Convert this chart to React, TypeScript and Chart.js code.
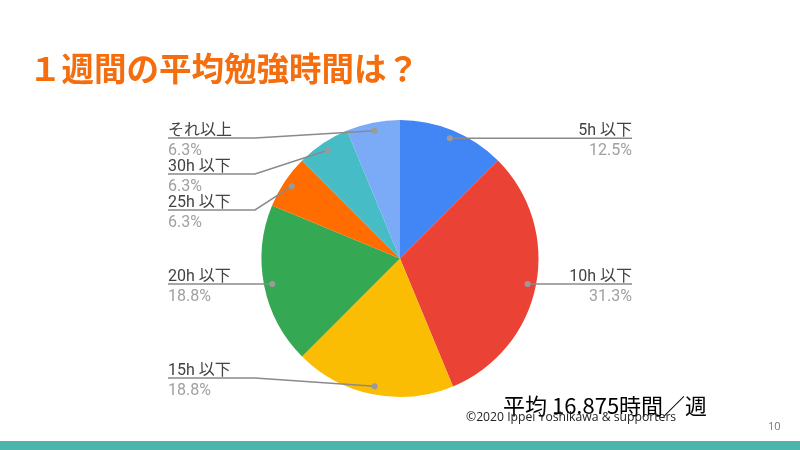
import React, { useEffect, useRef } from "react";
import { Chart, registerables } from "chart.js";
Chart.register(...registerables);

const categories = ["5h 以下", "10h 以下", "15h 以下", "20h 以下", "25h 以下", "30h 以下", "それ以上"];
const counts = [2, 5, 3, 3, 1, 1, 1];
const sliceColors = ["#4285F4", "#EA4335", "#FBBC04", "#34A853", "#FF6D01", "#46BDC6", "#7BAAF7"];
const titleText = "１週間の平均勉強時間は？";
const averageText = "平均 16.875時間／週";
const footerText = "©2020 Ippei Yoshikawa & supporters";
const pageNumber = "10";

const LATIN = "Roboto, 'Noto Sans CJK JP', sans-serif";

const slidePlugin = {
  id: "slideDecor",
  afterDraw(chart: any) {
    const ctx = chart.ctx as CanvasRenderingContext2D;
    const meta = chart.getDatasetMeta(0);
    const total = counts.reduce((a, b) => a + b, 0);
    type L = { i: number; dx: number; dy: number; y: number; right: boolean };
    const items: L[] = meta.data.map((arc: any, i: number) => {
      const p = arc.getProps(["x", "y", "startAngle", "endAngle", "outerRadius"], true);
      const mid = (p.startAngle + p.endAngle) / 2;
      const r = p.outerRadius * 0.94;
      const dx = p.x + Math.cos(mid) * r;
      const dy = p.y + Math.sin(mid) * r;
      return { i, dx, dy, y: dy, right: Math.cos(mid) >= 0 };
    });
    const gap = 36, minY = 138, maxY = 378;
    [true, false].forEach((side) => {
      const list = items.filter((it) => it.right === side).sort((a, b) => a.dy - b.dy);
      let prev = -Infinity;
      list.forEach((it) => {
        it.y = Math.max(it.dy, prev + gap, minY);
        prev = it.y;
      });
      let next = Infinity;
      for (let k = list.length - 1; k >= 0; k--) {
        list[k].y = Math.min(list[k].y, next - gap, maxY);
        next = list[k].y;
      }
    });

    ctx.save();
    items.forEach((it) => {
      const textX = it.right ? 632 : 168;
      const elbowX = it.right ? Math.max(545, it.dx) : Math.min(255, it.dx);
      ctx.strokeStyle = "#8a8a8a";
      ctx.lineWidth = 1.5;
      ctx.beginPath();
      ctx.moveTo(textX, it.y);
      ctx.lineTo(elbowX, it.y);
      ctx.lineTo(it.dx, it.dy);
      ctx.stroke();
      ctx.fillStyle = "#9a9a9a";
      ctx.beginPath();
      ctx.arc(it.dx, it.dy, 3, 0, Math.PI * 2);
      ctx.fill();

      ctx.textAlign = it.right ? "right" : "left";
      ctx.textBaseline = "alphabetic";
      ctx.font = `16px ${LATIN}`;
      ctx.fillStyle = "#424242";
      ctx.fillText(categories[it.i], textX, it.y - 3);
      ctx.fillStyle = "#a0a0a0";
      const pct = ((counts[it.i] / total) * 100).toFixed(1) + "%";
      ctx.fillText(pct, textX, it.y + 17);
    });

    // title
    ctx.textAlign = "left";
    ctx.textBaseline = "alphabetic";
    ctx.fillStyle = "#F46D0E";
    ctx.font = "bold 32.5px 'Noto Sans CJK JP', sans-serif";
    ctx.fillText(titleText, 29, 81);

    // average
    ctx.fillStyle = "#000000";
    ctx.font = "22px 'Noto Sans CJK JP', sans-serif";
    ctx.fillText(averageText, 503, 414);

    // footer
    ctx.fillStyle = "#222222";
    ctx.font = "12.2px 'Open Sans', sans-serif";
    ctx.fillText(footerText, 466, 421);

    // page number
    ctx.fillStyle = "#757575";
    ctx.font = "11px 'Open Sans', sans-serif";
    ctx.fillText(pageNumber, 768, 430);

    // bottom bar
    ctx.fillStyle = "#4DB6AC";
    ctx.fillRect(0, 441, 800, 9);
    ctx.restore();
  },
};

export default function App() {
  const ref = useRef<HTMLCanvasElement>(null);
  useEffect(() => {
    document.body.style.margin = "0";
    const chart = new Chart(ref.current!, {
      type: "pie",
      data: {
        labels: categories,
        datasets: [
          {
            data: counts,
            backgroundColor: sliceColors,
            borderWidth: 0,
          },
        ],
      },
      options: {
        responsive: false,
        animation: false,
        layout: { padding: { top: 120, bottom: 53, left: 100, right: 100 } },
        plugins: {
          legend: { display: false },
          tooltip: { enabled: false },
          title: { display: false },
        },
      },
      plugins: [slidePlugin],
    });
    return () => chart.destroy();
  }, []);
  return (
    <div style={{ position: "fixed", left: 0, top: 0, width: 800, height: 450, background: "#fff" }}>
      <canvas ref={ref} width={800} height={450} />
    </div>
  );
}
